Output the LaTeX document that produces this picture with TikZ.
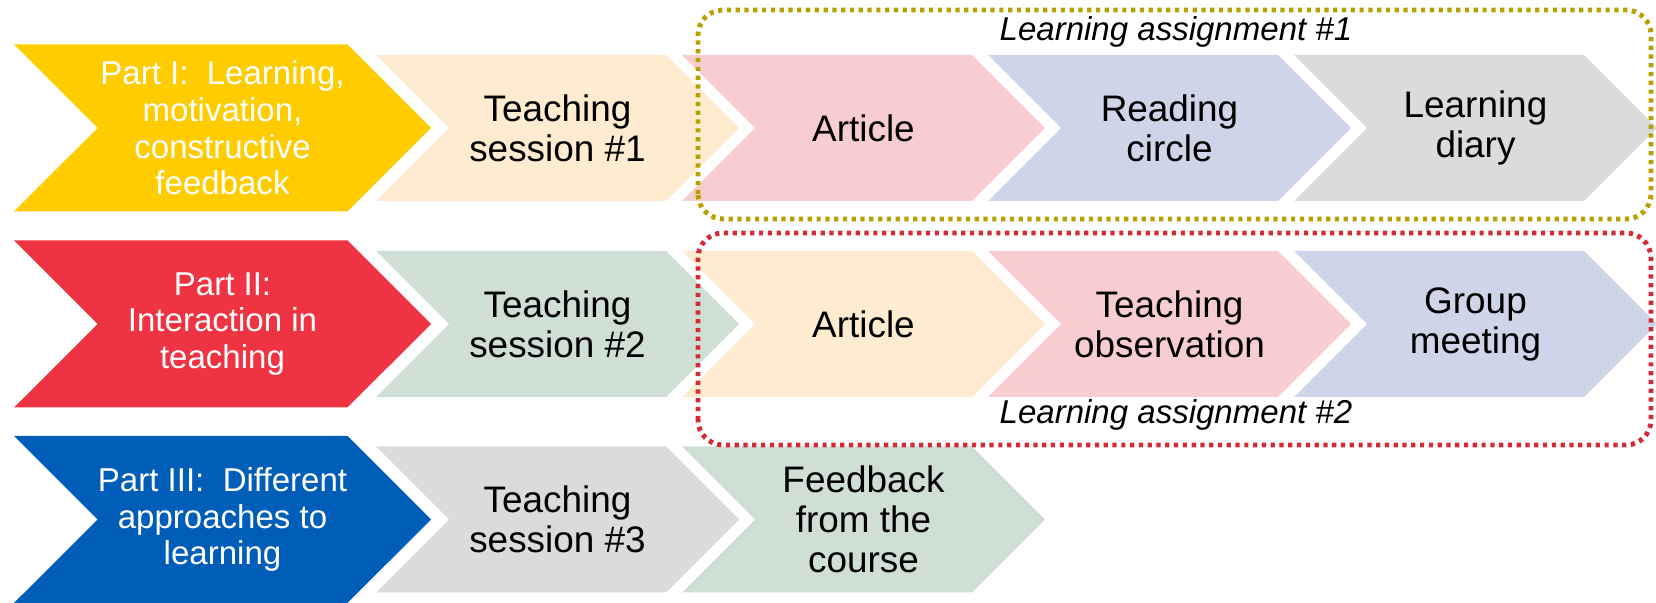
\documentclass[tikz,border=0pt]{standalone}
\usepackage{fontspec}
\setmainfont{Liberation Sans}
\usetikzlibrary{shapes.symbols,positioning}

\definecolor{partyellow}{HTML}{FFCC00}
\definecolor{partred}{HTML}{EE3342}
\definecolor{partblue}{HTML}{005EB8}
\definecolor{peach}{HTML}{FFEBCF}
\definecolor{rose}{HTML}{F8CDD0}
\definecolor{lavender}{HTML}{CFD5E8}
\definecolor{stone}{HTML}{DCDBD9}
\definecolor{sage}{HTML}{D0DFD6}
\definecolor{olive}{HTML}{B8A000}
\definecolor{dotred}{HTML}{D52B36}

\begin{document}
\begin{tikzpicture}[node distance=3.06cm,
  part/.style={signal,signal from=west,signal to=east,signal pointer angle=90,
    minimum width=4.17cm,minimum height=1.67cm,inner xsep=0pt,inner ysep=1pt,
    outer sep=0pt,text=white,align=center,font=\fontsize{9.4}{10.4}\selectfont},
  task/.style={signal,signal from=west,signal to=east,signal pointer angle=90,
    minimum width=3.63cm,minimum height=1.46cm,inner xsep=0pt,inner ysep=1pt,
    outer sep=0pt,text=black,align=center,font=\fontsize{10.5}{11.4}\selectfont},
  assign/.style={rounded corners=0.25cm,line width=1.4pt,dash pattern=on 1.2pt off 1.3pt},
  assignlabel/.style={font=\fontsize{9.4}{10}\selectfont\itshape}]
  \useasboundingbox (0,0) rectangle (16.56,6.03);

  % part I
  \node[part,fill=partyellow] (p1) at (2.225,4.75) {Part I:\ \ Learning,\\motivation,\\constructive\\feedback};
  \node[task,fill=peach] (s1) [node distance=3.35cm,right of=p1] {Teaching\\session \#1};
  \node[task,fill=rose] (a1) [right of=s1] {Article};
  \node[task,fill=lavender] (rc) [right of=a1] {Reading\\circle};
  \node[task,fill=stone] (ld) [right of=rc] {Learning\\diary};

  % part II
  \node[part,fill=partred] (p2) at (2.225,2.79) {Part II:\\Interaction in\\teaching};
  \node[task,fill=sage] (s2) [node distance=3.35cm,right of=p2] {Teaching\\session \#2};
  \node[task,fill=peach] (a2) [right of=s2] {Article};
  \node[task,fill=rose] (to) [right of=a2] {Teaching\\observation};
  \node[task,fill=lavender] (gm) [right of=to] {Group\\meeting};

  % part III
  \node[part,fill=partblue] (p3) at (2.225,0.835) {Part III:\ \ Different\\approaches to\\learning};
  \node[task,fill=stone] (s3) [node distance=3.35cm,right of=p3] {Teaching\\session \#3};
  \node[task,fill=sage] (fb) [right of=s3] {Feedback\\from the\\course};

  % learning assignments
  \draw[assign,olive] (6.98,3.84) rectangle (16.51,5.93);
  \node[assignlabel] (la1) at (11.76,5.71) {Learning assignment \#1};
  \draw[assign,dotred] (6.98,1.58) rectangle (16.51,3.70);
  \node[assignlabel] (la2) at (11.76,1.88) {Learning assignment \#2};
\end{tikzpicture}
\end{document}
